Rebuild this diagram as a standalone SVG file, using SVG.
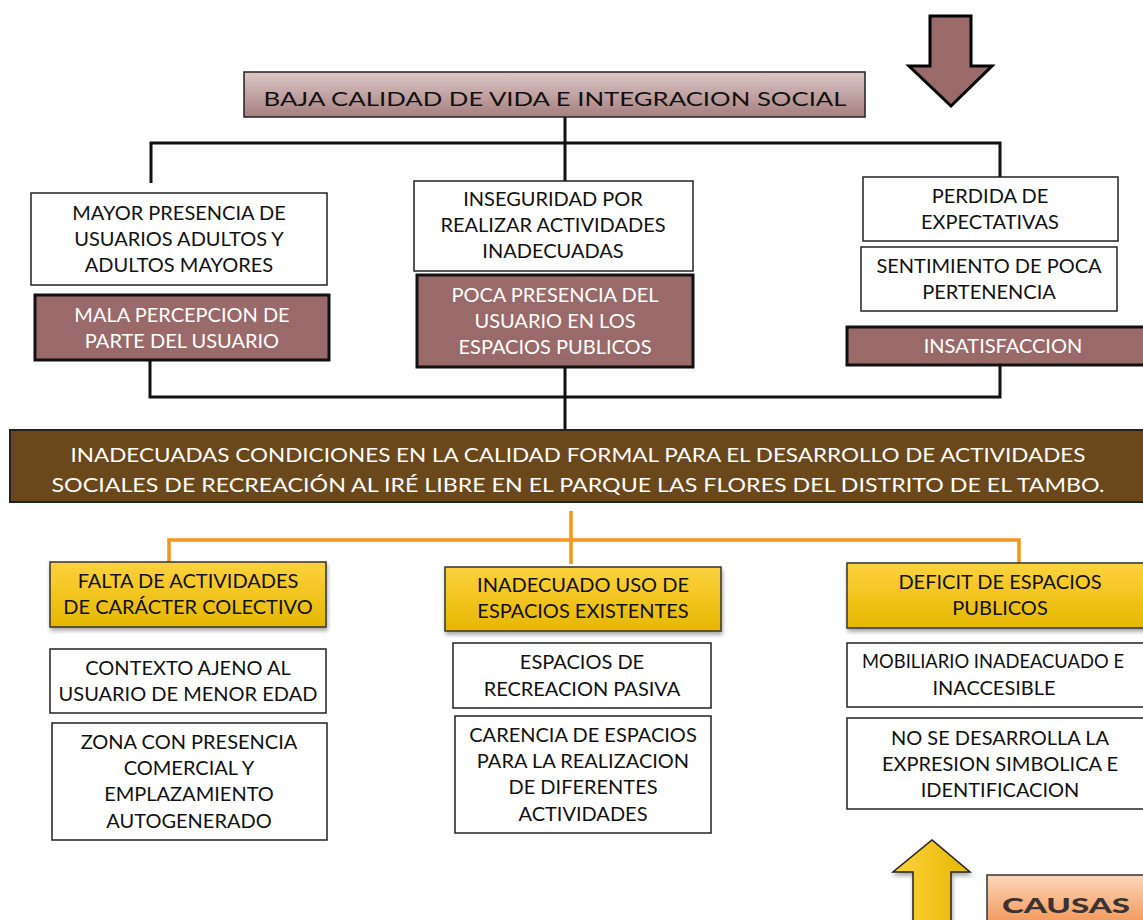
<svg xmlns="http://www.w3.org/2000/svg" width="1143" height="920" viewBox="0 0 1143 920">
<defs>
<linearGradient id="gPink" x1="0" y1="0" x2="0" y2="1"><stop offset="0" stop-color="#dcc8c8"/><stop offset="1" stop-color="#a77e7e"/></linearGradient>
<linearGradient id="gYel" x1="0" y1="0" x2="0" y2="1"><stop offset="0" stop-color="#fdd23e"/><stop offset="1" stop-color="#e6b700"/></linearGradient>
<linearGradient id="gYelH" x1="0" y1="0" x2="1" y2="0"><stop offset="0" stop-color="#fdd23e"/><stop offset="1" stop-color="#e6b700"/></linearGradient>
<linearGradient id="gOr" x1="0" y1="0" x2="0" y2="1"><stop offset="0" stop-color="#fcd6ba"/><stop offset="1" stop-color="#f29658"/></linearGradient>
<filter id="sh" x="-5%" y="-10%" width="112%" height="130%"><feDropShadow dx="1" dy="3" stdDeviation="2" flood-color="#000" flood-opacity="0.35"/></filter>
</defs>
<style>
text{font-family:Lato,"Open Sans","DejaVu Sans",sans-serif;font-size:20px;text-anchor:middle;fill:#111}
.w{fill:#fff}
.wb{fill:#fff;stroke:#222;stroke-width:1.5}
.pk{fill:#9a6a6a;stroke:#111;stroke-width:3}
.yb{fill:url(#gYel);stroke:#333;stroke-width:1.5;filter:url(#sh)}
.bl{fill:none;stroke:#111;stroke-width:3}
.ol{fill:none;stroke:#f7941d;stroke-width:3.5}
</style>
<rect width="1143" height="920" fill="#fff"/>

<g id="connectors">
<path class="bl" d="M565,117 V181 M151,183 V143 H1000 V178"/>
<path class="bl" d="M150,360 V397 H1000 V365 M565,367 V431"/>
<path class="ol" d="M571,511 V564 M169,563 V540 H1019 V564"/>
</g>

<g id="arrow-top">
<path d="M930,16 H971 V66 H992 L951,106 L909,66 H930 Z" fill="#9a6a6a" stroke="#000" stroke-width="3" stroke-linejoin="miter"/>
</g>

<g id="title">
<rect x="244" y="72" width="621" height="45" fill="url(#gPink)" stroke="#222" stroke-width="1.5"/>
<text x="555" y="106" font-size="28" textLength="583" lengthAdjust="spacingAndGlyphs">BAJA CALIDAD DE VIDA E INTEGRACION SOCIAL</text>
</g>

<g id="e1">
<rect class="wb" x="31" y="193" width="296" height="92"/>
<text x="179" y="220">MAYOR PRESENCIA DE</text>
<text x="179" y="246">USUARIOS ADULTOS Y</text>
<text x="179" y="272">ADULTOS MAYORES</text>
</g>
<g id="e2">
<rect class="pk" x="35" y="295" width="294" height="65"/>
<text class="w" x="182" y="322">MALA PERCEPCION DE</text>
<text class="w" x="182" y="348">PARTE DEL USUARIO</text>
</g>
<g id="e3">
<rect class="wb" x="414" y="181" width="279" height="90"/>
<text x="553" y="206">INSEGURIDAD POR</text>
<text x="553" y="232">REALIZAR ACTIVIDADES</text>
<text x="553" y="258">INADECUADAS</text>
</g>
<g id="e4">
<rect class="pk" x="417" y="275" width="276" height="92"/>
<text class="w" x="555" y="302">POCA PRESENCIA DEL</text>
<text class="w" x="555" y="328">USUARIO EN LOS</text>
<text class="w" x="555" y="354">ESPACIOS PUBLICOS</text>
</g>
<g id="e5">
<rect class="wb" x="863" y="177" width="255" height="64"/>
<text x="990" y="203">PERDIDA DE</text>
<text x="990" y="229">EXPECTATIVAS</text>
</g>
<g id="e6">
<rect class="wb" x="861" y="247" width="256" height="64"/>
<text x="989" y="273">SENTIMIENTO DE POCA</text>
<text x="989" y="299">PERTENENCIA</text>
</g>
<g id="e7">
<rect class="pk" x="847" y="327" width="300" height="38"/>
<text class="w" x="1003" y="353">INSATISFACCION</text>
</g>

<g id="main">
<rect x="10" y="430" width="1140" height="72" fill="#6b471c" stroke="#222" stroke-width="2"/>
<text class="w" x="578" y="462" font-size="26" textLength="1015" lengthAdjust="spacingAndGlyphs">INADECUADAS  CONDICIONES  EN  LA  CALIDAD  FORMAL  PARA  EL  DESARROLLO  DE  ACTIVIDADES</text>
<text class="w" x="578" y="492" font-size="26" textLength="1053" lengthAdjust="spacingAndGlyphs">SOCIALES  DE  RECREACIÓN  AL  IRÉ  LIBRE  EN  EL  PARQUE  LAS  FLORES  DEL  DISTRITO  DE  EL  TAMBO.</text>
</g>

<g id="c1">
<rect class="yb" x="50" y="562" width="276" height="65"/>
<text x="188" y="588">FALTA DE ACTIVIDADES</text>
<text x="188" y="614">DE CARÁCTER COLECTIVO</text>
</g>
<g id="c2">
<rect class="yb" x="445" y="567" width="276" height="64"/>
<text x="583" y="592">INADECUADO USO DE</text>
<text x="583" y="618">ESPACIOS EXISTENTES</text>
</g>
<g id="c3">
<rect class="yb" x="847" y="563" width="300" height="65"/>
<text x="1000" y="589">DEFICIT DE ESPACIOS</text>
<text x="1000" y="615">PUBLICOS</text>
</g>

<g id="c4">
<rect class="wb" x="50" y="649" width="276" height="64"/>
<text x="188" y="675">CONTEXTO AJENO AL</text>
<text x="188" y="701">USUARIO DE MENOR EDAD</text>
</g>
<g id="c5">
<rect class="wb" x="52" y="723" width="275" height="117"/>
<text x="189" y="749">ZONA CON PRESENCIA</text>
<text x="189" y="775">COMERCIAL Y</text>
<text x="189" y="801">EMPLAZAMIENTO</text>
<text x="189" y="828">AUTOGENERADO</text>
</g>
<g id="c6">
<rect class="wb" x="453" y="643" width="258" height="65"/>
<text x="582" y="669">ESPACIOS DE</text>
<text x="582" y="696">RECREACION PASIVA</text>
</g>
<g id="c7">
<rect class="wb" x="455" y="716" width="256" height="117"/>
<text x="583" y="742">CARENCIA DE ESPACIOS</text>
<text x="583" y="768">PARA LA REALIZACION</text>
<text x="583" y="794">DE DIFERENTES</text>
<text x="583" y="821">ACTIVIDADES</text>
</g>
<g id="c8">
<rect class="wb" x="847" y="643" width="300" height="64"/>
<text x="993" y="668" font-size="19" textLength="262" lengthAdjust="spacingAndGlyphs">MOBILIARIO INADEACUADO E</text>
<text x="994" y="695">INACCESIBLE</text>
</g>
<g id="c9">
<rect class="wb" x="847" y="718" width="300" height="91"/>
<text x="1000" y="745">NO SE DESARROLLA  LA</text>
<text x="1000" y="771">EXPRESION SIMBOLICA E</text>
<text x="1000" y="797">IDENTIFICACION</text>
</g>

<g id="arrow-bottom">
<path d="M913,925 V872 H893 L932,840 L970,872 H951 V925 Z" fill="url(#gYelH)" stroke="#222" stroke-width="1.5" filter="url(#sh)"/>
</g>
<g id="causas">
<rect x="987" y="875" width="160" height="50" fill="url(#gOr)" stroke="#333" stroke-width="1.5"/>
<text x="1066" y="913" font-size="32" font-weight="900" style="fill:#3b3333" textLength="128" lengthAdjust="spacingAndGlyphs">CAUSAS</text>
</g>
</svg>
